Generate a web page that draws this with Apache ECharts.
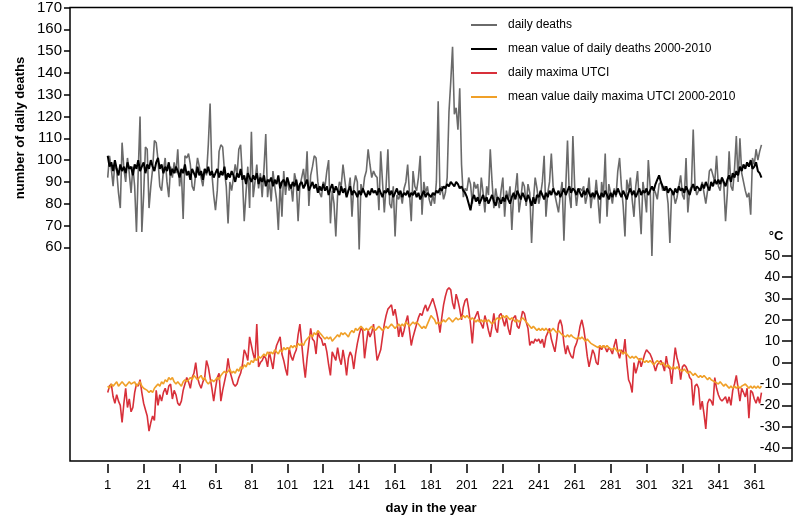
<!DOCTYPE html>
<html>
<head>
<meta charset="utf-8">
<script src="https://cdn.jsdelivr.net/npm/echarts@6/dist/echarts.min.js"></script>
<style>
  html, body { margin: 0; background: #fff; }
  #chart { width: 800px; height: 520px; }
</style>
</head>
<body>
<div id="chart"></div>
<script>
// tick labels
const dayTicks = [1, 21, 41, 61, 81, 101, 121, 141, 161, 181, 201, 221, 241, 261, 281, 301, 321, 341, 361];
const deathTicks = [60, 70, 80, 90, 100, 110, 120, 130, 140, 150, 160, 170];
const utciTicks = [-40, -30, -20, -10, 0, 10, 20, 30, 40, 50];

// number of daily deaths
const deathsDaily = [
  92, 102, 96, 88, 99, 95, 85, 78, 108, 96,
  90, 101, 94, 85, 97, 88, 67, 95, 120, 67,
  84, 106, 105, 78, 88, 96, 109, 108, 100, 88,
  86, 95, 101, 90, 83, 97, 92, 99, 94, 105,
  88, 95, 73, 102, 101, 103, 98, 88, 86, 94,
  101, 97, 92, 88, 96, 93, 107, 126, 94, 84,
  77, 86, 104, 107, 106, 95, 88, 71, 90, 86,
  92, 98, 93, 105, 107, 92, 72, 85, 97, 78,
  113, 83, 90, 98, 87, 94, 83, 96, 112, 83,
  91, 81, 95, 88, 82, 68, 90, 74, 95, 84,
  92, 86, 89, 81, 94, 90, 72, 88, 92, 96,
  88, 104, 79, 93, 97, 102, 101, 90, 85, 83,
  90, 88, 95, 100, 71, 86, 80, 65, 84, 90,
  88, 98, 91, 84, 86, 92, 74, 88, 93, 90,
  59, 89, 85, 92, 95, 105, 98, 92, 95, 93,
  92, 77, 104, 90, 76, 88, 105, 80, 78, 88,
  65, 84, 82, 85, 80, 87, 90, 98, 85, 72,
  95, 88, 86, 92, 102, 75, 90, 85, 88, 82,
  79, 84, 80, 90, 127, 84, 88, 82, 85, 92,
  122, 136, 152, 121, 124, 114, 133, 98, 83, 87,
  86, 92, 89, 80, 90, 87, 89, 79, 92, 85,
  76, 88, 84, 105, 90, 78, 87, 82, 78, 86,
  92, 74, 86, 82, 88, 68, 84, 86, 94, 76,
  82, 90, 88, 79, 89, 85, 62, 81, 92, 87,
  80, 84, 90, 102, 74, 85, 90, 103, 88, 84,
  80, 76, 84, 90, 63, 87, 109, 84, 78, 111,
  88, 79, 86, 87, 86, 88, 80, 84, 92, 78,
  85, 82, 91, 82, 71, 90, 84, 103, 74, 89,
  85, 80, 87, 83, 95, 101, 88, 79, 65, 91,
  86, 92, 82, 74, 88, 95, 80, 66, 90, 84,
  76, 100, 88, 56, 87, 85, 82, 89, 90, 86,
  88, 87, 80, 62, 86, 85, 80, 83, 88, 93,
  84, 82, 101, 76, 86, 88, 114, 88, 84, 86,
  87, 90, 85, 80, 86, 95, 96, 93, 90, 102,
  88, 86, 92, 89, 72, 85, 104, 88, 86, 96,
  111, 90, 110, 94, 90, 86, 83, 85, 75, 101,
  98, 105, 100, 104, 107
];

// mean value of daily deaths 2000-2010
const deathsMean = [
  102, 97, 99, 95, 100, 96, 93, 98, 95, 97,
  94, 99, 96, 97, 93, 98, 96, 100, 95, 97,
  99, 94, 98, 96, 100, 97, 95, 99, 101, 96,
  98, 94, 97, 95, 99, 93, 96, 94, 97, 95,
  92, 96, 94, 98, 93, 95, 91, 96, 94, 92,
  97, 93, 95, 91, 96, 94, 97, 93, 95, 92,
  94, 96, 92, 95, 93, 97, 91, 94, 92, 95,
  93, 90, 94, 92, 96, 91, 93, 89, 94, 92,
  90, 93, 91, 94, 89, 92, 90, 93, 88, 91,
  90, 92, 88, 91, 89, 93, 87, 90, 91, 88,
  92, 89, 87, 90, 88, 91, 86, 89, 90, 87,
  89, 91, 86, 88, 90, 87, 89, 85, 88, 86,
  89, 86, 88, 84, 87, 89, 85, 88, 86, 84,
  88, 85, 87, 83, 86, 88, 84, 86, 85, 83,
  86, 84, 87, 85, 83, 86, 84, 87, 85, 86,
  84, 87, 85, 83, 86, 85, 87, 84, 86, 83,
  85, 87, 84, 86, 83, 85, 84, 86, 83, 85,
  84, 86, 83, 85, 82, 84, 86, 83, 85, 84,
  83, 85, 84, 86, 85, 87, 86, 88, 87, 89,
  88, 90, 89, 88, 90, 89, 87, 88, 86, 85,
  83, 80, 77, 82, 84, 81, 83, 80, 82, 84,
  81, 83, 80, 82, 84, 81, 79, 83, 82, 80,
  83, 81, 84, 82, 80, 83, 85, 82, 86, 84,
  82, 85, 83, 81, 84, 82, 79, 83, 80, 84,
  83, 86, 84, 82, 85, 83, 86, 84, 87, 85,
  84, 86, 83, 85, 87, 84, 86, 88, 85, 87,
  86, 84, 87, 85, 83, 86, 84, 87, 85, 83,
  85, 83, 86, 84, 82, 85, 83, 86, 84, 82,
  85, 83, 86, 84, 87, 85, 83, 86, 84, 82,
  85, 87, 84, 86, 83, 85, 87, 84, 86, 85,
  87, 84, 86, 88, 86, 89, 91, 93, 90, 88,
  86, 88, 85, 87, 86, 84, 87, 85, 88, 86,
  87, 85, 88, 86, 84, 87, 89, 86, 88, 87,
  86, 89, 87, 90, 88, 86, 90, 88, 91, 89,
  91, 89, 92, 90, 88, 91, 93, 90, 94, 92,
  95, 93, 97, 95, 98, 96, 99, 97, 100, 96,
  97, 99, 95, 94, 92
];

// daily maxima UTCI (°C)
const utciDaily = [
  -14, -11, -10, -16, -19, -15, -18, -20, -28, -19,
  -12, -21, -17, -23, -21, -14, -10, -11, -8, -14,
  -19, -22, -25, -32, -28, -25, -27, -13, -20, -15,
  -18, -14, -12, -15, -11, -10, -17, -13, -15, -19,
  -20, -18, -13, -10, -7, -9, -12, -7, -5, 0,
  -7, -10, -12, -9, -7, 1, -2, -7, -12, -18,
  -12, -7, -5, -18, -13, -9, -5, 2, -4, -7,
  -10, -11, -10, -7, -5, -1, 6, 4, 1, 12,
  8, 4, 1, 18, -2, 0, 1, 3, 2, -2,
  5, 1, -3, 4, 8, 10, 12, 4, 1, -3,
  -6, 7, 3, 1, 4, 6, 13, 18, 9, 0,
  -7, 2, 9, 16, 11, 10, 4, 14, 12, 11,
  8, 9, 5, -1, -6, 5, 3, 1, 7, 2,
  -1, 6, 1, -6, 2, 5, 3, -3, 4, 9,
  13, 16, 15, 2, 9, 15, 12, 14, 18, 9,
  1, 1, 6, 12, 18, 22, 25, 26, 27, 22,
  25, 20, 12, 17, 12, 15, 19, 22, 15, 8,
  12, 15, 18, 21, 23, 22, 25, 27, 24, 26,
  28, 30, 27, 24, 20, 14, 21, 27, 31, 34,
  35, 34, 28, 25, 32, 29, 25, 20, 26, 29,
  30, 25, 18, 9, 20, 22, 24, 20, 18, 16,
  22, 19, 15, 12, 17, 23, 16, 14, 22, 23,
  20, 17, 21, 16, 13, 19, 21, 22, 17, 16,
  20, 24, 23, 19, 16, 8, 10, 9, 11, 10,
  11, 9, 11, 7, 12, 14, 16, 11, 8, 5,
  11, 18, 20, 17, 9, 4, 8, 5, 3, 2,
  7, 9, 12, 17, 20, 16, 10, 3, -2, 2,
  6, 4, 0, -1, 8, 6, 8, 7, 5, 7,
  6, 4, 8, 11, 5, 2, 6, 4, 11, 0,
  -8, -10, -14, 0, -5, -2, 2, -2, 1, 4,
  6, 5, 4, 2, -1, -4, -1, -1, 1, -1,
  -4, 3, -2, -3, -10, -1, 7, 2, -1, -8,
  -2, -1, -2, -4, -7, -8, -20, -11, -10, -12,
  -22, -18, -24, -31, -19, -17, -18, -20, -7, -12,
  -15, -17, -18, -17, -16, -19, -16, -20, -13, -10,
  -6, -12, -18, -12, -14, -16, -12, -26, -13, -14,
  -17, -19, -16, -19, -14
];

// mean value daily maxima UTCI 2000-2010 (°C)
const utciMean = [
  -11, -12, -10, -11, -10, -9, -11, -10, -9, -10,
  -11, -10, -9, -10, -10, -9, -11, -10, -9, -11,
  -12, -12, -13, -14, -13, -14, -12, -11, -10, -11,
  -9, -10, -8, -9, -7, -8, -7, -9, -10, -9,
  -10, -11, -9, -8, -9, -8, -7, -8, -6, -7,
  -8, -7, -6, -8, -7, -9, -10, -9, -8, -9,
  -8, -7, -8, -6, -5, -4, -5, -4, -3, -5,
  -4, -5, -3, -4, -2, -3, -1, -2, 0, -1,
  1, 0, 2, 1, 3, 2, 3, 4, 3, 5,
  4, 5, 4, 6, 5, 4, 6, 5, 7, 6,
  7, 6, 8, 7, 8, 7, 9, 8, 9, 8,
  10, 11, 12, 13, 12, 14, 13, 15, 14, 13,
  12, 11, 12, 11, 12, 10, 11, 12, 13, 12,
  14, 13, 14, 13, 12, 14, 15, 14, 16, 15,
  16, 17, 16, 15, 16, 15, 16, 17, 16, 15,
  16, 17, 16, 15, 16, 17, 16, 17, 18, 17,
  16, 17, 18, 17, 18, 17, 19, 18, 17, 18,
  19, 18, 19, 18, 17, 16, 17, 16, 18, 20,
  22, 21, 20, 18, 19, 18, 19, 20, 19, 20,
  21, 20, 19, 20, 21, 20, 20, 21, 22, 21,
  22, 21, 20, 21, 20, 19, 20, 19, 20, 19,
  20, 19, 20, 19, 18, 19, 20, 21, 20, 21,
  22, 21, 22, 21, 20, 21, 20, 19, 20, 19,
  20, 21, 20, 19, 18, 17, 16, 17, 16, 15,
  16, 15, 16, 15, 16, 15, 14, 15, 16, 15,
  14, 15, 14, 13, 13, 12, 13, 12, 13, 12,
  12, 11, 12, 11, 12, 11, 10, 11, 10, 9,
  9, 8, 8, 7, 8, 7, 8, 7, 8, 7,
  7, 6, 7, 6, 5, 6, 5, 4, 5, 4,
  3, 2, 3, 2, 3, 2, 1, 2, 1, 0,
  1, 0, 1, 0, -1, 0, 1, 0, -1, 0,
  -1, -2, -1, -2, -3, -2, -3, -2, -3, -3,
  -4, -3, -4, -5, -4, -5, -6, -5, -6, -7,
  -6, -7, -6, -7, -8, -7, -8, -8, -9, -9,
  -10, -9, -10, -11, -10, -11, -12, -11, -12, -11,
  -12, -11, -12, -11, -11, -10, -11, -12, -11, -12,
  -11, -12, -11, -12, -11
];

const FONT = "'Liberation Sans', Arial, sans-serif";
const days = deathsDaily.map((_, i) => i + 1);
const pairs = (arr) => arr.map((v, i) => [days[i], v]);

function line(name, data, color, width, axis) {
  return {
    name, type: "line", data: pairs(data), yAxisIndex: axis,
    showSymbol: false, symbol: "none",
    lineStyle: { color, width }, itemStyle: { color },
  };
}

const chart = echarts.init(document.getElementById("chart"), null, { renderer: "canvas" });
chart.setOption({
  animation: false,
  textStyle: { fontFamily: FONT, color: "#000" },
  grid: { left: 70, right: 8, top: 7, bottom: 55, show: true,
          borderColor: "#000", borderWidth: 1.5, backgroundColor: "transparent" },
  legend: {
    orient: "vertical", left: 466, top: 14, icon: "rect",
    itemWidth: 26, itemHeight: 2, itemGap: 12,
    textStyle: { fontFamily: FONT, fontSize: 12, color: "#000", padding: [0, 0, 0, 6] },
    data: ["daily deaths", "mean value of daily deaths 2000-2010",
           "daily maxima UTCI", "mean value daily maxima UTCI 2000-2010"],
  },
  xAxis: {
    type: "value", min: -20, max: 382, offset: 3,
    name: "day in the year", nameLocation: "middle", nameGap: 38,
    nameTextStyle: { fontFamily: FONT, fontSize: 13, fontWeight: "bold", color: "#000" },
    axisLine: { show: false, onZero: false },
    axisTick: { show: true, customValues: dayTicks, length: 9, lineStyle: { color: "#000", width: 1.5 } },
    axisLabel: { customValues: dayTicks, fontSize: 13, color: "#000", margin: 15 },
    splitLine: { show: false },
  },
  yAxis: [
    {
      type: "value", position: "left", min: -38, max: 170,
      axisLine: { show: false, onZero: false },
      axisTick: { show: true, customValues: deathTicks, length: 6, lineStyle: { color: "#000", width: 1.5 } },
      axisLabel: { customValues: deathTicks, fontSize: 15, color: "#000", margin: 8 },
      splitLine: { show: false },
    },
    {
      type: "value", position: "right", min: -46, max: 166,
      axisLine: { show: false, onZero: false },
      axisTick: { show: true, inside: true, customValues: utciTicks, length: 10,
                  lineStyle: { color: "#000", width: 1.5 } },
      axisLabel: { inside: true, customValues: utciTicks, fontSize: 14, color: "#000", margin: 12 },
      splitLine: { show: false },
    },
  ],
  graphic: [
    { type: "text", x: 20, y: 128, rotation: Math.PI / 2,
      style: { text: "number of daily deaths", font: "bold 13px " + FONT,
               fill: "#000", align: "center", verticalAlign: "middle" } },
    { type: "text", x: 776, y: 236,
      style: { text: "°C", font: "bold 13px " + FONT, fill: "#000",
               align: "center", verticalAlign: "middle" } },
  ],
  series: [
    line("daily deaths", deathsDaily, "#6a6a6a", 1.6, 0),
    line("mean value of daily deaths 2000-2010", deathsMean, "#000000", 2, 0),
    line("daily maxima UTCI", utciDaily, "#d8303a", 1.6, 1),
    line("mean value daily maxima UTCI 2000-2010", utciMean, "#f0a028", 1.6, 1),
  ],
});
</script>
</body>
</html>
